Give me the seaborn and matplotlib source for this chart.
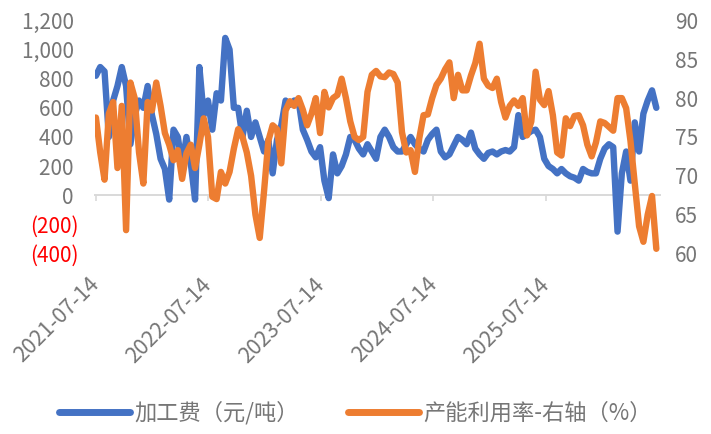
import numpy as np
import pandas as pd
import matplotlib
matplotlib.use('Agg')
import matplotlib.pyplot as plt
import matplotlib.ticker as mticker
import seaborn as sns

# Data (bi-weekly samples)
fee = [820, 880, 850, 400, 650, 750, 880, 750, 350, 550,
       650, 600, 750, 550, 420, 250, 180, -30, 450, 400,
       200, 400, 220, -30, 880, 550, 650, 450, 700, 650,
       1080, 1000, 600, 600, 400, 580, 400, 500, 400, 300,
       380, 150, 380, 480, 650, 620, 650, 650, 450, 380,
       300, 260, 330, 100, -20, 280, 150, 200, 280, 400,
       380, 320, 280, 350, 300, 250, 400, 450, 400, 330,
       300, 300, 350, 400, 350, 320, 300, 380, 420, 450,
       300, 260, 280, 340, 400, 380, 350, 430, 320, 280,
       250, 290, 300, 280, 300, 310, 300, 330, 550, 400,
       420, 440, 450, 400, 250, 200, 180, 150, 180, 150,
       130, 120, 100, 180, 160, 150, 150, 250, 320, 350,
       330, -250, 150, 300, 100, 500, 300, 560, 650, 720,
       600]

util = [77.5, 73, 69.5, 78, 79.5, 71, 79, 63, 82, 80,
        73, 69, 79.5, 78.4, 82, 79, 75.5, 74, 72, 73.3,
        69.6, 72.9, 74, 71, 74, 77.4, 75, 67.3, 67, 70.5,
        69, 70.5, 73.5, 76, 75, 73, 70, 65, 62, 68,
        74.5, 76.5, 76, 71.6, 78.4, 79.6, 79, 80, 78.5, 76.5,
        78, 80, 75.5, 80.8, 78.8, 80, 80.4, 82.5, 80, 77,
        75, 74.6, 75, 80.8, 83, 83.5, 82.8, 82.7, 83.3, 83.1,
        82, 75.6, 73, 73.3, 70.5, 74.8, 77.8, 77.9, 80, 81.7,
        82.5, 83.7, 84.6, 80, 83, 81, 81, 82.9, 84.5, 87,
        82.5, 81.6, 81.3, 82.5, 79.5, 77.5, 79, 79.7, 79, 80,
        75.2, 77, 83.4, 79.8, 79.1, 80.9, 77.8, 73, 72.6, 77.4,
        76.4, 77.7, 77.8, 76.5, 74, 72.5, 74.3, 77, 76.8, 76.3,
        75.8, 80, 80, 78.7, 74.5, 69, 63.5, 61.5, 65, 67.4,
        60.6]

tick_dates = ['2021-07-14', '2022-07-14', '2023-07-14', '2024-07-14', '2025-07-14']
left_ticks = [-400, -200, 0, 200, 400, 600, 800, 1000, 1200]
right_ticks = [60, 65, 70, 75, 80, 85, 90]

fee_label = '加工费（元/吨）'
util_label = '产能利用率-右轴（%）'

dates = pd.date_range('2021-07-14', periods=len(fee), freq='14D')
df = pd.DataFrame({'date': dates, 'fee': fee, 'util': util})

sns.set_style('white')
plt.rcParams['font.family'] = ['Noto Sans CJK SC', 'DejaVu Sans']

BLUE = '#4472C4'
ORANGE = '#ED7D31'
GREY = '#767676'

fig = plt.figure(figsize=(7.11, 4.34), dpi=100)
ax = fig.add_axes([0.1336, 0.416, 0.7947, 0.5369])
ax2 = ax.twinx()

sns.lineplot(data=df, x='date', y='fee', ax=ax, color=BLUE, linewidth=4.6,
             label=fee_label, legend=False)
sns.lineplot(data=df, x='date', y='util', ax=ax2, color=ORANGE, linewidth=4.6,
             label=util_label, legend=False)

ax.set_ylim(-400, 1200)
ax2.set_ylim(60, 90)
ax.set_xlim(dates[0] - pd.Timedelta(days=3), dates[-1] + pd.Timedelta(days=12))

for a in (ax, ax2):
    for s in a.spines.values():
        s.set_visible(False)
    a.set_xlabel('')
    a.set_ylabel('')

# left axis, negatives in red with parentheses
def fmt_left(v, pos):
    if v < 0:
        return '({:,.0f})'.format(abs(v))
    return '{:,.0f} '.format(v)

ax.set_yticks(left_ticks)
ax.yaxis.set_major_formatter(mticker.FuncFormatter(fmt_left))
ax.tick_params(axis='y', length=0, pad=12, labelsize=15, labelcolor=GREY)
for t, lab in zip(left_ticks, ax.get_yticklabels()):
    if t < 0:
        lab.set_color('#FF0000')

ax2.set_yticks(right_ticks)
ax2.tick_params(axis='y', length=0, pad=11, labelsize=15, labelcolor=GREY)

# x labels below the plot
ticks = pd.to_datetime(tick_dates)
ax.set_xticks(ticks)
ax.set_xticklabels(tick_dates)
ax.tick_params(axis='x', length=0, pad=20, labelsize=15.5, labelcolor=GREY)
plt.setp(ax.get_xticklabels(), rotation=45, ha='right', va='center',
         rotation_mode='anchor')

# zero line with tick marks
zero = ax.secondary_xaxis(0.25)
zero.set_xticks(ticks)
zero.set_xticklabels([])
zero.tick_params(axis='x', direction='out', length=4, width=1.2, color='#D9D9D9')
zero.spines['bottom'].set_color('#D9D9D9')
zero.spines['bottom'].set_linewidth(1.4)

handles = ax.get_lines()[:1] + ax2.get_lines()[:1]
leg = fig.legend(handles, [fee_label, util_label], loc='center',
                 bbox_to_anchor=(0.5, 0.048), ncol=2, frameon=False,
                 fontsize=16, handlelength=3.2, handletextpad=0.2,
                 columnspacing=2.2)
for line in leg.get_lines():
    line.set_linewidth(5)
    line.set_solid_capstyle('round')
for txt in leg.get_texts():
    txt.set_color(GREY)

fig.savefig('out.png', dpi=100)
